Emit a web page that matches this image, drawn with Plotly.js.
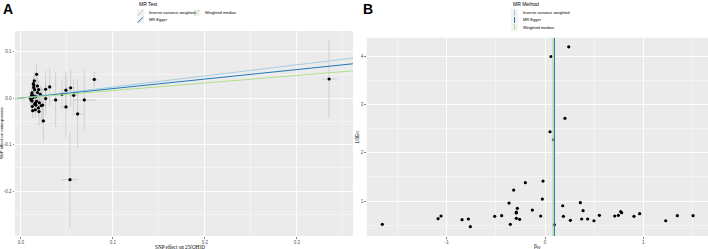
<!DOCTYPE html>
<html>
<head>
<meta charset="utf-8">
<script src="https://cdn.plot.ly/plotly-3.0.1.min.js"></script>
<style>
html,body{margin:0;padding:0;background:#fff;}
#chart{width:708px;height:249px;}
</style>
</head>
<body>
<div id="chart"></div>
<script>
// ---------- Panel A: scatter (SNP effect on exposure vs outcome) ----------
const snpBetaExposure = [0.017,0.0145,0.0134,0.0178,0.0138,0.0149,0.0192,0.012,0.0116,0.0134,0.012,0.017,0.0156,0.0149,0.0123,0.0163,0.0127,0.0156,0.0196,0.0221,0.0236,0.0243,0.0268,0.0268,0.0312,0.0377,0.0446,0.0489,0.0489,0.054,0.0573,0.0616,0.0688,0.0797,0.335,0.0533,0.013,0.016,0.018,0.011,0.020,0.014,0.021,0.019,0.010];
const snpBetaOutcome  = [0.051,0.037,0.031,0.026,0.023,0.018,0.018,0.011,0.006,0.005,-0.006,-0.007,-0.011,-0.013,-0.018,-0.015,-0.027,-0.025,-0.029,-0.016,-0.015,-0.049,-0.001,0.019,0.024,-0.004,0.008,0.017,-0.019,0.022,0.006,-0.034,-0.004,0.040,0.041,-0.175,0.001,0.003,0.012,-0.004,-0.010,0.028,0.008,-0.021,0.000];
const snpSeOutcome    = [0.022,0.02,0.018,0.02,0.017,0.016,0.02,0.015,0.014,0.015,0.015,0.018,0.016,0.017,0.015,0.018,0.016,0.018,0.03,0.04,0.035,0.045,0.035,0.04,0.04,0.058,0.03,0.04,0.065,0.04,0.035,0.073,0.066,0.018,0.084,0.103,0.015,0.016,0.018,0.014,0.02,0.017,0.02,0.018,0.014];
const snpSeExposure   = [0.002,0.002,0.002,0.002,0.002,0.002,0.002,0.002,0.002,0.002,0.002,0.002,0.002,0.002,0.002,0.002,0.002,0.002,0.002,0.003,0.003,0.003,0.003,0.003,0.003,0.004,0.004,0.004,0.004,0.005,0.005,0.006,0.012,0.004,0.008,0.0095,0.002,0.002,0.002,0.002,0.002,0.002,0.002,0.002,0.002];

const mrMethods   = ["Inverse variance weighted","MR Egger","Weighted median"];
const mrSlopes    = [0.238, 0.204, 0.162];
const mrIntercept = [0, 0, 0];
const mrColors    = ["#A6CEE3","#1F78B4","#B2DF8A"];

// ---------- Panel B: funnel plot ----------
const betaIV = [-1.655,-1.088,-1.058,-0.844,-0.780,-0.760,-0.512,-0.441,-0.366,-0.353,-0.319,-0.292,-0.292,-0.282,-0.292,-0.258,-0.200,-0.129,-0.044,-0.027,-0.020,0.095,0.180,0.187,0.258,0.359,0.373,0.387,0.434,0.498,0.553,0.709,0.746,0.770,0.780,0.905,0.963,1.228,1.346,1.506,0.241,0.061,0.203,0.051,0.085];
const invSeIV = [0.516,0.633,0.689,0.612,0.627,0.467,0.682,0.695,0.958,0.516,1.228,0.751,0.772,0.848,0.641,0.620,1.380,0.813,0.689,1.041,1.415,0.508,0.902,0.682,0.599,0.965,0.627,0.799,0.627,0.591,0.703,0.689,0.703,0.778,0.757,0.682,0.737,0.591,0.695,0.695,4.20,4.00,2.716,2.438,2.272];
const funnelMethods = ["Inverse variance weighted","MR Egger","Weighted median"];
const funnelEstimates = [0.093, 0.096, 0.080];
const funnelColors = ["#A6CEE3","#1F78B4","#B2DF8A"];

const W = 708, H = 249;
const px = x => x / W;
const py = y => 1 - y / H;

const xRangeA = [-0.0065, 0.361], yRangeA = [-0.296, 0.144];
const xRangeB = [-1.814, 1.658], yRangeB = [0.274, 4.39];

const traces = [];
traces.push({
  type:'scatter', mode:'markers', xaxis:'x', yaxis:'y',
  x: snpBetaExposure, y: snpBetaOutcome,
  marker:{color:'#000', size:3.2},
  error_y:{type:'data', array:snpSeOutcome, visible:true, color:'#BDBDBD', thickness:0.6, width:0},
  error_x:{type:'data', array:snpSeExposure, visible:true, color:'#BDBDBD', thickness:0.6, width:0},
  showlegend:false, hoverinfo:'skip'
});
mrMethods.forEach((m,i)=>{
  traces.push({
    type:'scatter', mode:'lines', xaxis:'x', yaxis:'y',
    x: xRangeA, y: xRangeA.map(v=>mrIntercept[i]+mrSlopes[i]*v),
    line:{color:mrColors[i], width:1}, showlegend:false, name:m, hoverinfo:'skip'
  });
});
traces.push({
  type:'scatter', mode:'markers', xaxis:'x2', yaxis:'y2',
  x: betaIV, y: invSeIV, marker:{color:'#000', size:3.2}, showlegend:false, hoverinfo:'skip'
});
funnelMethods.forEach((m,i)=>{
  traces.push({
    type:'scatter', mode:'lines', xaxis:'x2', yaxis:'y2',
    x:[funnelEstimates[i],funnelEstimates[i]], y:yRangeB,
    line:{color:funnelColors[i], width:1}, showlegend:false, name:m, hoverinfo:'skip'
  });
});

const tickFont = {family:'Liberation Sans, Arial, sans-serif', size:4.5, color:'#4D4D4D'};
const axisCommon = {
  showgrid:true, gridcolor:'#FFFFFF', gridwidth:0.9, zeroline:false,
  ticks:'outside', ticklen:1.5, tickwidth:0.6, tickcolor:'#333', tickfont:tickFont,
  showline:false, fixedrange:true,
  minor:{showgrid:true, gridcolor:'#FFFFFF', gridwidth:0.4, ticks:''}
};

const layout = {
  width:W, height:H, margin:{l:0,r:0,t:0,b:0},
  paper_bgcolor:'#fff', plot_bgcolor:'#EBEBEB',
  showlegend:false,
  xaxis: Object.assign({}, axisCommon, {domain:[px(15), px(353)], range:xRangeA, tickvals:[0,0.1,0.2,0.3], ticktext:['0.0','0.1','0.2','0.3'], minor:Object.assign({},axisCommon.minor,{tickvals:[0.05,0.15,0.25,0.35]}), anchor:'y'}),
  yaxis: Object.assign({}, axisCommon, {domain:[py(236), py(31)], range:yRangeA, tickvals:[-0.2,-0.1,0,0.1], ticktext:['-0.2','-0.1','0.0','0.1'], minor:Object.assign({},axisCommon.minor,{tickvals:[-0.25,-0.15,-0.05,0.05]}), anchor:'x'}),
  xaxis2: Object.assign({}, axisCommon, {domain:[px(366.7), 1], range:xRangeB, tickvals:[-1,0,1], ticktext:['-1','0','1'], minor:Object.assign({},axisCommon.minor,{tickvals:[-1.5,-0.5,0.5,1.5]}), anchor:'y2'}),
  yaxis2: Object.assign({}, axisCommon, {domain:[py(236), py(37.7)], range:yRangeB, tickvals:[1,2,3,4], ticktext:['1','2','3','4'], minor:Object.assign({},axisCommon.minor,{tickvals:[0.5,1.5,2.5,3.5]}), anchor:'x2'}),
  shapes:[], annotations:[]
};

const sans = 'Liberation Sans, Arial, sans-serif';
const serif = 'Liberation Serif, Times New Roman, serif';
function ann(text, x, y, opts){
  layout.annotations.push(Object.assign({text:text, x:px(x), y:py(y), xref:'paper', yref:'paper', showarrow:false, xanchor:'left', yanchor:'middle', font:{family:sans, size:4.2, color:'#000'}}, opts||{}));
}
// Panel letters
ann('<b>A</b>', 1, 9, {font:{family:sans, size:14, color:'#000'}});
ann('<b>B</b>', 361, 9, {font:{family:sans, size:14, color:'#000'}});
// Axis titles
ann('SNP effect on 25(OH)D', 180, 247.3, {xanchor:'center', font:{family:serif, size:5.2, color:'#000'}});
ann('SNP effect on osteoporosis', 1.8, 133.5, {xanchor:'center', textangle:-90, font:{family:sans, size:4.3, color:'#000'}});
ann('β<sub>IV</sub>', 537, 246.3, {xanchor:'center', font:{family:sans, size:5.2, color:'#000'}});
ann('1/SE<sub>IV</sub>', 357.5, 137, {xanchor:'center', textangle:-90, font:{family:sans, size:4.5, color:'#000'}});

// Legend A
ann('MR Test', 136.5, 4, {font:{family:sans, size:5, color:'#000'}});
const legA = [[137,9.3,146.5,12.7],[137,16.3,146.5,19.8],[193.5,9.3,203,12.7]];
const legAidx = [0,1,2];
legAidx.forEach((mi,k)=>{
  const [x0,y0,tx,ty] = legA[k];
  layout.shapes.push({type:'rect', xref:'paper', yref:'paper', x0:px(x0), x1:px(x0+7), y0:py(y0+7), y1:py(y0), fillcolor:'#F2F2F2', line:{width:0}});
  layout.shapes.push({type:'line', xref:'paper', yref:'paper', x0:px(x0+0.7), x1:px(x0+6.3), y0:py(y0+6.3), y1:py(y0+0.7), line:{color:mrColors[mi], width:1}});
  ann(mrMethods[mi], tx, ty, {font:{family:sans, size:4, color:'#000'}});
});

// Legend B
ann('MR Method', 511, 4, {font:{family:sans, size:5, color:'#000'}});
funnelMethods.forEach((m,i)=>{
  const y0 = 9.3 + i*7.1;
  layout.shapes.push({type:'rect', xref:'paper', yref:'paper', x0:px(511), x1:px(518), y0:py(y0+7), y1:py(y0), fillcolor:'#F2F2F2', line:{width:0}});
  layout.shapes.push({type:'line', xref:'paper', yref:'paper', x0:px(514.5), x1:px(514.5), y0:py(y0+6.5), y1:py(y0+0.5), line:{color:funnelColors[i], width:1}});
  ann(m, 520.5, y0+3.5, {font:{family:sans, size:4, color:'#000'}});
});

Plotly.newPlot('chart', traces, layout, {staticPlot:true, displayModeBar:false});
</script>
</body>
</html>
